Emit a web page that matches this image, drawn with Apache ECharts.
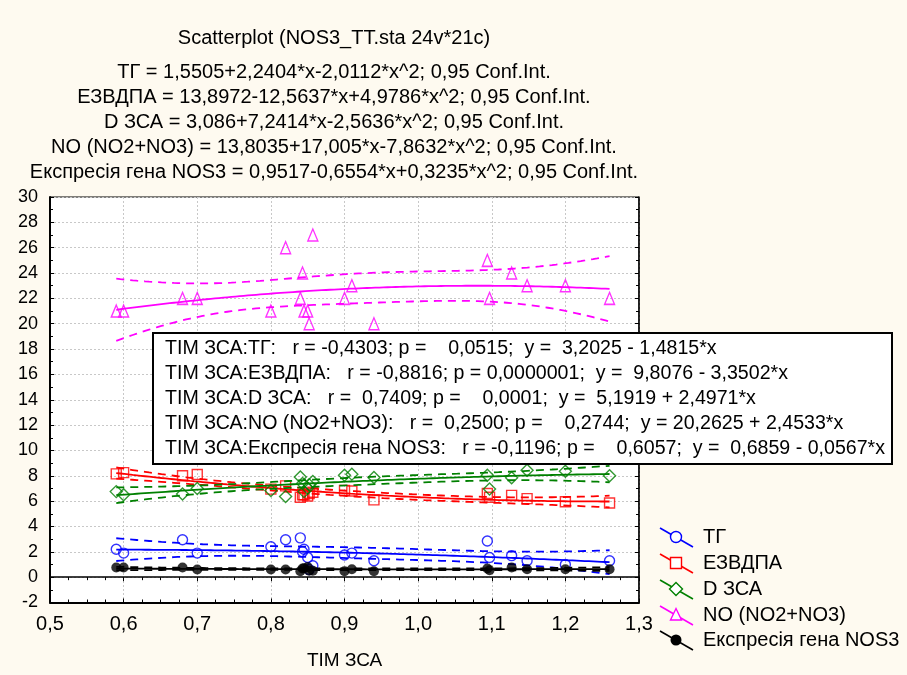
<!DOCTYPE html>
<html>
<head>
<meta charset="utf-8">
<script src="https://cdn.jsdelivr.net/npm/echarts@6/dist/echarts.min.js"></script>
<style>
  html, body { margin: 0; padding: 0; background: #FEFAF0; }
  #chart { width: 907px; height: 675px; }
</style>
</head>
<body>
<div id="chart"></div>
<script>
// TIM ЗСА of each of the 21 cases (x values shared by all variables)
const timZsa = [0.59, 0.60, 0.68, 0.70, 0.80, 0.82, 0.84, 0.843, 0.845, 0.85, 0.852, 0.857, 0.90, 0.91, 0.94, 1.094, 1.097, 1.127, 1.148, 1.20, 1.26];

// measured variables, in the same case order
const tg     = [2.2, 1.9, 2.95, 1.9, 2.4, 2.95, 3.1, 2.0, 2.2, 1.55, 0.6, 0.9, 1.75, 1.9, 1.3, 2.85, 1.55, 1.7, 1.3, 1.0, 1.3];
const ezvdpa = [8.15, 8.25, 8.0, 8.1, 6.95, 7.2, 6.3, 6.5, 6.5, 6.4, 6.6, 6.7, 6.85, 6.8, 6.1, 6.6, 6.3, 6.45, 6.2, 5.95, 5.85];
const dZsa   = [6.75, 6.5, 6.57, 7.0, 6.83, 6.36, 7.9, 7.4, 6.75, 7.02, 7.3, 7.55, 8.05, 8.13, 7.87, 8.05, 6.96, 7.84, 8.44, 8.36, 8.0];
const no     = [21, 21, 22, 22, 21, 26, 22, 24, 21, 21, 20, 27, 22, 23, 20, 25, 22, 24, 23, 23, 22];
const nos3   = [0.76, 0.76, 0.76, 0.6, 0.6, 0.6, 0.47, 0.68, 0.7, 0.8, 0.5, 0.5, 0.47, 0.63, 0.47, 0.68, 0.55, 0.76, 0.63, 0.63, 0.63];

// quadratic fits y = b0 + b1*x + b2*x^2 as stated in the heading
const tgFit     = [1.5505, 2.2404, -2.0112];
const ezvdpaFit = [13.8972, -12.5637, 4.9786];
const dZsaFit   = [3.086, 7.2414, -2.5636];
const noFit     = [13.8035, 17.005, -7.8632];
const nos3Fit   = [0.9517, -0.6554, 0.3235];

// axis ticks
const xTicks = [0.5, 0.6, 0.7, 0.8, 0.9, 1.0, 1.1, 1.2, 1.3];
const yTicks = [-2, 0, 2, 4, 6, 8, 10, 12, 14, 16, 18, 20, 22, 24, 26, 28, 30];

const seriesNames = ['ТГ', 'ЕЗВДПА', 'D ЗСА', 'NO (NO2+NO3)', 'Експресія гена NOS3'];

const headingLines = [
  'Scatterplot (NOS3_TT.sta 24v*21c)',
  'ТГ = 1,5505+2,2404*x-2,0112*x^2; 0,95 Conf.Int.',
  'ЕЗВДПА = 13,8972-12,5637*x+4,9786*x^2; 0,95 Conf.Int.',
  'D ЗСА = 3,086+7,2414*x-2,5636*x^2; 0,95 Conf.Int.',
  'NO (NO2+NO3) = 13,8035+17,005*x-7,8632*x^2; 0,95 Conf.Int.',
  'Експресія гена NOS3 = 0,9517-0,6554*x+0,3235*x^2; 0,95 Conf.Int.'
];

const statLines = [
  'ТІМ ЗСА:ТГ:   r = -0,4303; p =    0,0515;  y =  3,2025 - 1,4815*x',
  'ТІМ ЗСА:ЕЗВДПА:   r = -0,8816; p = 0,0000001;  y =  9,8076 - 3,3502*x',
  'ТІМ ЗСА:D ЗСА:   r =  0,7409; p =    0,0001;  y =  5,1919 + 2,4971*x',
  'ТІМ ЗСА:NO (NO2+NO3):   r =  0,2500; p =    0,2744;  y = 20,2625 + 2,4533*x',
  'ТІМ ЗСА:Експресія гена NOS3:   r = -0,1196; p =    0,6057;  y =  0,6859 - 0,0567*x'
];

const FONT = '"Liberation Sans", Arial, sans-serif';
const colors = ['#0000FF', '#FF0000', '#008000', '#FF00FF', '#000000'];

// ---- quadratic regression curve with 95% confidence band ----
function invert3(m) {
  const [a, b, c] = m[0], [d, e, f] = m[1], [g, h, i] = m[2];
  const A = e * i - f * h, B = -(d * i - f * g), C = d * h - e * g;
  const det = a * A + b * B + c * C;
  return [
    [A / det, -(b * i - c * h) / det, (b * f - c * e) / det],
    [B / det, (a * i - c * g) / det, -(a * f - c * d) / det],
    [C / det, -(a * h - b * g) / det, (a * e - b * d) / det]
  ];
}

function quadBand(ys, coef) {
  const n = timZsa.length;
  const S = [[0, 0, 0], [0, 0, 0], [0, 0, 0]];
  let sse = 0;
  timZsa.forEach((x, k) => {
    const v = [1, x, x * x];
    for (let a = 0; a < 3; a++) for (let b = 0; b < 3; b++) S[a][b] += v[a] * v[b];
    const r = ys[k] - (coef[0] + coef[1] * x + coef[2] * x * x);
    sse += r * r;
  });
  const inv = invert3(S);
  const s2 = sse / (n - 3);
  const t = 2.1009; // t(0.975, df = 18)
  const lo = Math.min(...timZsa), hi = Math.max(...timZsa);
  const fit = [], up = [], dn = [];
  const steps = 120;
  for (let k = 0; k <= steps; k++) {
    const x = lo + (hi - lo) * k / steps;
    const v = [1, x, x * x];
    let q = 0;
    for (let a = 0; a < 3; a++) for (let b = 0; b < 3; b++) q += v[a] * inv[a][b] * v[b];
    const yh = coef[0] + coef[1] * x + coef[2] * x * x;
    const hw = t * Math.sqrt(s2 * q);
    fit.push([x, yh]); up.push([x, yh + hw]); dn.push([x, yh - hw]);
  }
  return { fit, up, dn };
}

const groups = [
  { ys: tg,     coef: tgFit,     symbol: 'circle',   size: 10, hollow: true },
  { ys: ezvdpa, coef: ezvdpaFit, symbol: 'rect',     size: 10, hollow: true },
  { ys: dZsa,   coef: dZsaFit,   symbol: 'diamond',  size: 12, hollow: true },
  { ys: no,     coef: noFit,     symbol: 'triangle', size: [10, 12], hollow: true },
  { ys: nos3,   coef: nos3Fit,   symbol: 'circle',   size: 10, hollow: false }
];

const series = [];
groups.forEach((g, gi) => {
  const c = colors[gi];
  const band = quadBand(g.ys, g.coef);
  const z = 2 + gi;
  series.push({
    type: 'scatter', name: seriesNames[gi], z,
    symbol: g.symbol, symbolSize: g.size,
    data: timZsa.map((x, k) => [x, g.ys[k]]),
    itemStyle: g.hollow
      ? { color: 'rgba(255,255,255,0)', borderColor: c, borderWidth: 1.4 }
      : { color: c, borderColor: c, borderWidth: 0 },
    silent: true
  });
  series.push({
    type: 'line', z, data: band.fit, showSymbol: false, silent: true,
    lineStyle: { color: c, width: 1.8 }
  });
  [band.up, band.dn].forEach(d => series.push({
    type: 'line', z, data: d, showSymbol: false, silent: true,
    lineStyle: { color: c, width: 1.8, type: [8, 6] }
  }));
});

// ---- heading, statistics box and legend ----
const graphic = [];
const headingY = [38, 72, 97, 122, 147, 172];
headingLines.forEach((s, k) => graphic.push({
  type: 'text', x: 334, y: headingY[k],
  style: { text: s, font: '20px ' + FONT, fill: '#000', textAlign: 'center', textVerticalAlign: 'middle' }
}));

graphic.push({
  type: 'rect', z: 100,
  shape: { x: 153, y: 333, width: 739, height: 131 },
  style: { fill: '#fff', stroke: '#000', lineWidth: 2 }
});
const statY = [349, 374, 399, 424, 449];
statLines.forEach((s, k) => graphic.push({
  type: 'text', z: 101, x: 165, y: statY[k],
  style: { text: s, font: '19.6px ' + FONT, fill: '#000', textAlign: 'left', textVerticalAlign: 'middle' }
}));

const legendY = [537, 563, 589, 615, 640];
function legendMarker(k, cx, cy) {
  const c = colors[k];
  const hollow = { fill: 'rgba(255,255,255,1)', stroke: c, lineWidth: 1.4 };
  switch (k) {
    case 0: return { type: 'circle', shape: { cx, cy, r: 5.5 }, style: hollow };
    case 1: return { type: 'rect', shape: { x: cx - 5.5, y: cy - 5.5, width: 11, height: 11 }, style: hollow };
    case 2: return { type: 'polygon', shape: { points: [[cx, cy - 6.5], [cx + 6.5, cy], [cx, cy + 6.5], [cx - 6.5, cy]] }, style: hollow };
    case 3: return { type: 'polygon', shape: { points: [[cx, cy - 6.5], [cx + 5.5, cy + 5], [cx - 5.5, cy + 5]] }, style: hollow };
    default: return { type: 'circle', shape: { cx, cy, r: 5.5 }, style: { fill: c } };
  }
}
seriesNames.forEach((name, k) => {
  const cy = legendY[k];
  graphic.push({
    type: 'line', z: 50,
    shape: { x1: 660, y1: cy - 9, x2: 693, y2: cy + 10 },
    style: { stroke: colors[k], lineWidth: 1.6 }
  });
  const m = legendMarker(k, 676, cy);
  m.z = 51;
  graphic.push(m);
  graphic.push({
    type: 'text', z: 51, x: 703, y: cy,
    style: { text: name, font: '20px ' + FONT, fill: '#000', textAlign: 'left', textVerticalAlign: 'middle' }
  });
});

const fmtX = v => v.toFixed(1).replace('.', ',');
const baseAxis = {
  axisLine: { show: true, onZero: false, lineStyle: { color: '#000', width: 2 } },
  axisTick: { show: true, inside: true, length: 4, lineStyle: { color: '#000', width: 1 } },
  minorTick: { show: true, length: 3, lineStyle: { color: '#000', width: 1 } }
};

const option = {
  animation: false,
  backgroundColor: '#FEFAF0',
  textStyle: { fontFamily: FONT },
  grid: {
    left: 50, top: 197, right: 268, bottom: 71,
    show: true, backgroundColor: '#FFFFFF', borderColor: '#000', borderWidth: 1
  },
  xAxis: [
    Object.assign({}, baseAxis, {
      type: 'value', min: xTicks[0], max: xTicks[xTicks.length - 1], interval: 0.1,
      minorTick: Object.assign({}, baseAxis.minorTick, { splitNumber: 4 }),
      splitLine: { show: true, lineStyle: { color: '#C8C8C8', type: [2, 2], width: 1 } },
      axisLabel: { formatter: fmtX, fontSize: 20, color: '#000', margin: 12, fontFamily: FONT },
      name: 'TIM ЗСА', nameLocation: 'middle', nameGap: 58,
      nameTextStyle: { fontSize: 19, color: '#000', fontFamily: FONT, verticalAlign: 'middle' }
    }),
    Object.assign({}, baseAxis, {
      type: 'value', position: 'top', min: xTicks[0], max: xTicks[xTicks.length - 1], interval: 0.1,
      minorTick: Object.assign({}, baseAxis.minorTick, { splitNumber: 4 }),
      axisLine: { show: true, lineStyle: { color: '#000', width: 1.5 } },
      axisLabel: { show: false }, splitLine: { show: false }
    })
  ],
  yAxis: [
    Object.assign({}, baseAxis, {
      type: 'value', min: yTicks[0], max: yTicks[yTicks.length - 1], interval: 2,
      minorTick: Object.assign({}, baseAxis.minorTick, { splitNumber: 2 }),
      splitLine: { show: true, lineStyle: { color: '#C8C8C8', type: [2, 2], width: 1 } },
      axisLabel: { fontSize: 18, color: '#000', margin: 12, fontFamily: FONT }
    }),
    Object.assign({}, baseAxis, {
      type: 'value', position: 'right', min: yTicks[0], max: yTicks[yTicks.length - 1], interval: 2,
      minorTick: Object.assign({}, baseAxis.minorTick, { splitNumber: 2 }),
      axisLine: { show: true, lineStyle: { color: '#000', width: 1.5 } },
      axisLabel: { show: false }, splitLine: { show: false }
    })
  ],
  series,
  graphic
};

const chart = echarts.init(document.getElementById('chart'), null, { renderer: 'canvas' });
chart.setOption(option);
</script>
</body>
</html>
